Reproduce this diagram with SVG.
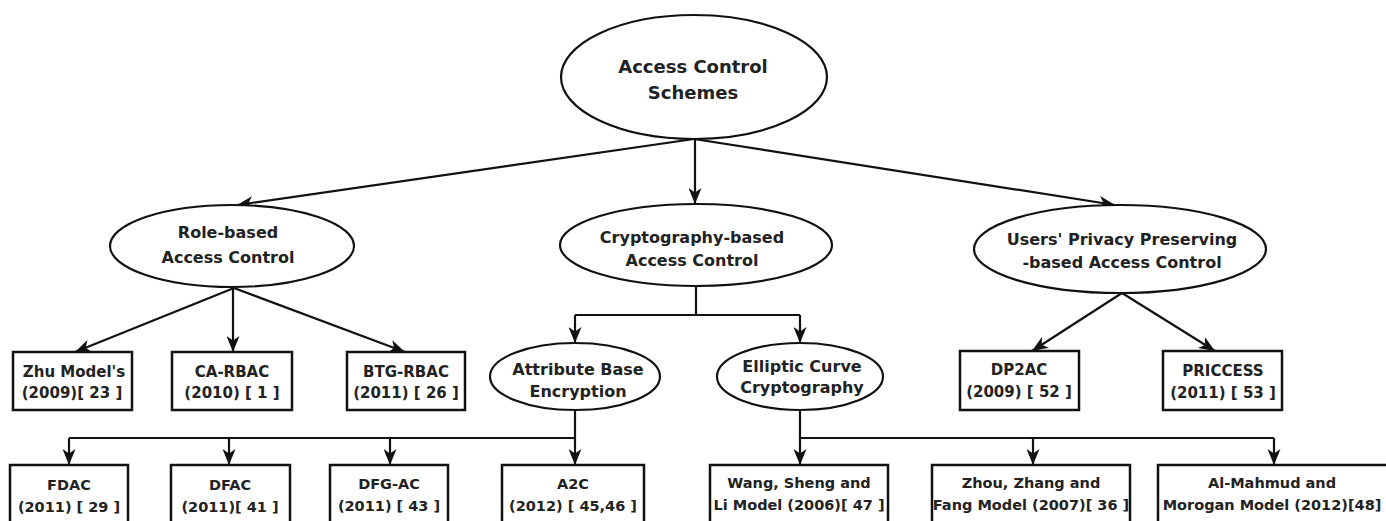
<svg xmlns="http://www.w3.org/2000/svg" width="1386" height="521" viewBox="0 0 1386 521">
<style>
.sh{fill:#fff;stroke:#111;stroke-width:2.2}
.bx{fill:#fff;stroke:#111;stroke-width:2.5}
.ln{fill:none;stroke:#111;stroke-width:2.2}
text{font-family:"DejaVu Sans","Liberation Sans",sans-serif;font-weight:bold;fill:#222;text-anchor:middle}
.t18{font-size:18px}
.t16{font-size:16px}
.t15{font-size:15px}
.t14{font-size:14.5px}
</style>
<defs>
<marker id="ah" viewBox="0 0 16 13" refX="16" refY="6.5" markerWidth="16" markerHeight="13" markerUnits="userSpaceOnUse" orient="auto">
<path d="M0,0 L16,6.5 L0,13 L4.5,6.5 z" fill="#111"/>
</marker>
</defs>
<rect width="1386" height="521" fill="#fff"/>
<g id="connectors">
<line class="ln" x1="695" y1="139" x2="695" y2="204" marker-end="url(#ah)"/>
<line class="ln" x1="694" y1="139" x2="237" y2="205" marker-end="url(#ah)"/>
<line class="ln" x1="694" y1="139" x2="1115" y2="205" marker-end="url(#ah)"/>
<line class="ln" x1="234" y1="288" x2="75" y2="352" marker-end="url(#ah)"/>
<line class="ln" x1="233" y1="288" x2="233" y2="352" marker-end="url(#ah)"/>
<line class="ln" x1="234" y1="288" x2="405" y2="352" marker-end="url(#ah)"/>
<polyline class="ln" points="696,286 696,315"/>
<polyline class="ln" points="575,315 800,315"/>
<line class="ln" x1="575" y1="315" x2="575" y2="343" marker-end="url(#ah)"/>
<line class="ln" x1="800" y1="315" x2="800" y2="343" marker-end="url(#ah)"/>
<polyline class="ln" points="575,410 575,438"/>
<polyline class="ln" points="69,438 575,438"/>
<line class="ln" x1="69" y1="438" x2="69" y2="465" marker-end="url(#ah)"/>
<line class="ln" x1="229" y1="438" x2="229" y2="465" marker-end="url(#ah)"/>
<line class="ln" x1="390" y1="438" x2="390" y2="465" marker-end="url(#ah)"/>
<line class="ln" x1="575" y1="438" x2="575" y2="465" marker-end="url(#ah)"/>
<polyline class="ln" points="800,410 800,438 1274,438"/>
<line class="ln" x1="800" y1="438" x2="800" y2="465" marker-end="url(#ah)"/>
<line class="ln" x1="1033" y1="438" x2="1033" y2="465" marker-end="url(#ah)"/>
<line class="ln" x1="1274" y1="438" x2="1274" y2="465" marker-end="url(#ah)"/>
<line class="ln" x1="1122" y1="293" x2="1032" y2="351" marker-end="url(#ah)"/>
<line class="ln" x1="1122" y1="293" x2="1215" y2="351" marker-end="url(#ah)"/>
</g>
<g id="root"><ellipse class="sh" cx="694" cy="77" rx="133" ry="62"/><text class="t18" x="693" y="73">Access Control</text><text class="t18" x="693" y="99">Schemes</text></g>
<g id="rbac"><ellipse class="sh" cx="232" cy="246" rx="122" ry="41"/><text class="t16" x="228" y="238">Role-based</text><text class="t16" x="228" y="263">Access Control</text></g>
<g id="cbac"><ellipse class="sh" cx="696" cy="245" rx="136" ry="41"/><text class="t16" x="692" y="243">Cryptography-based</text><text class="t16" x="692" y="266">Access Control</text></g>
<g id="upp"><ellipse class="sh" cx="1120" cy="249" rx="146" ry="44"/><text class="t16" x="1122" y="245">Users' Privacy Preserving</text><text class="t16" x="1122" y="268">-based Access Control</text></g>
<g id="abe"><ellipse class="sh" cx="575" cy="376.5" rx="85" ry="33.5"/><text class="t16" x="578" y="375">Attribute Base</text><text class="t16" x="578" y="397">Encryption</text></g>
<g id="ecc"><ellipse class="sh" cx="800" cy="376.5" rx="83" ry="33.5"/><text class="t16" x="802" y="372">Elliptic Curve</text><text class="t16" x="802" y="393">Cryptography</text></g>
<g id="zhu"><rect class="bx" x="13" y="352" width="119" height="58"/><text class="t15" x="74" y="377">Zhu Model's</text><text class="t15" x="72" y="398">(2009)[ 23 ]</text></g>
<g id="carbac"><rect class="bx" x="172" y="352" width="120" height="58"/><text class="t15" x="232" y="377">CA-RBAC</text><text class="t15" x="232" y="398">(2010)  [ 1 ]</text></g>
<g id="btgrbac"><rect class="bx" x="347" y="352" width="118" height="58"/><text class="t15" x="406" y="377">BTG-RBAC</text><text class="t15" x="406" y="398">(2011) [ 26 ]</text></g>
<g id="dp2ac"><rect class="bx" x="960" y="351" width="119" height="59"/><text class="t15" x="1019" y="375">DP2AC</text><text class="t15" x="1019" y="397">(2009) [ 52 ]</text></g>
<g id="priccess"><rect class="bx" x="1163" y="351" width="119" height="59"/><text class="t15" x="1223" y="376">PRICCESS</text><text class="t15" x="1223" y="398">(2011) [ 53 ]</text></g>
<g id="fdac"><rect class="bx" x="10" y="465" width="118" height="70"/><text class="t14" x="69" y="490">FDAC</text><text class="t14" x="69" y="512">(2011) [ 29 ]</text></g>
<g id="dfac"><rect class="bx" x="171" y="465" width="119" height="70"/><text class="t14" x="230" y="490">DFAC</text><text class="t14" x="230" y="512">(2011)[ 41 ]</text></g>
<g id="dfgac"><rect class="bx" x="330" y="465" width="118" height="70"/><text class="t14" x="389" y="489">DFG-AC</text><text class="t14" x="389" y="511">(2011) [ 43 ]</text></g>
<g id="a2c"><rect class="bx" x="502" y="465" width="142" height="70"/><text class="t14" x="573" y="489">A2C</text><text class="t14" x="573" y="511">(2012) [ 45,46 ]</text></g>
<g id="wang"><rect class="bx" x="710" y="465" width="178" height="70"/><text class="t14" x="799" y="488">Wang, Sheng and</text><text class="t14" x="799" y="510">Li Model (2006)[ 47 ]</text></g>
<g id="zhou"><rect class="bx" x="932" y="465" width="198" height="70"/><text class="t14" x="1031" y="488">Zhou, Zhang and</text><text class="t14" x="1031" y="510">Fang Model (2007)[ 36 ]</text></g>
<g id="almahmud"><rect class="bx" x="1158" y="465" width="240" height="70"/><text class="t14" x="1272" y="488">Al-Mahmud and</text><text class="t14" x="1272" y="510">Morogan Model (2012)[48]</text></g>
</svg>
